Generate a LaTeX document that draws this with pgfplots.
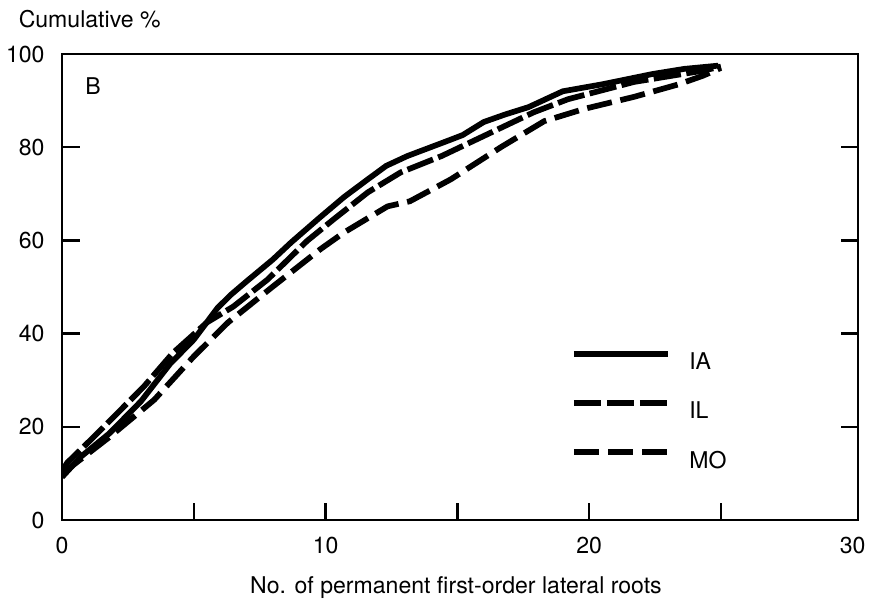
\documentclass[border=0pt]{standalone}
\usepackage{fontspec}
\setmainfont{TeX Gyre Heros}
\usepackage{pgfplots}
\pgfplotsset{compat=1.18}

\begin{document}
\begin{tikzpicture}[font=\fontsize{10.5}{12.5}\selectfont]

\begin{axis}[
scale only axis,
width=12.736cm,
height=7.456cm,
xmin=0, xmax=30.2,
ymin=0, ymax=100,
axis line style={line width=1.1pt},
tick style={line width=1.1pt, black},
tick align=inside,
major tick length=0.28cm,
xtick={0,5,...,25},
xticklabels={0,,10,,20,},
extra x ticks={30},
extra x tick style={major tick length=0pt},
xtick pos=bottom,
ytick={0,20,...,100},
ytick pos=both,
/pgf/number format/assume math mode=true,
xticklabel style={anchor=base, yshift=-0.528cm},
yticklabel style={anchor=east, inner sep=0pt, xshift=-0.272cm},
xlabel={No. of permanent first-order lateral roots},
ylabel={Cumulative \%},
every axis x label/.style={at={(rel axis cs:0.5,0)}, anchor=base, yshift=-1.168cm, xshift=-0.064cm},
every axis y label/.style={at={(rel axis cs:0,1)}, anchor=base west, xshift=-0.816cm, yshift=0.416cm},
legend style={draw=none, fill=none, at={(axis description cs:0.639,0.364)}, anchor=north west,
  inner sep=0pt, row sep=0.49cm, column sep=0.3cm,
  nodes={inner sep=0pt, text height=0.7em, text depth=0pt}},
legend cell align=left,
legend image code/.code={\draw[#1] (0cm,0.13cm) -- (1.5cm,0.13cm);},
every axis plot/.append style={black, line width=2.6pt, line join=round},
]
\coordinate (SW) at (rel axis cs:0,0);

% IA
\addplot [solid] coordinates {
(0,9.2) (0.7,13.5) (1.8,18.6) (3.0,25.5) (4.1,33.5) (5.0,38.7) (5.9,45.5)
(6.4,48.3) (7.0,51.2) (8.0,55.9) (8.7,59.6) (9.8,65) (10.7,69.3) (11.6,73.1)
(12.3,76) (13.1,78.1) (14.6,81.3) (15.2,82.6) (16.0,85.4) (16.8,87) (17.7,88.6)
(19.0,92) (20.5,93.5) (22.4,95.7) (23.6,96.8) (24.9,97.5)
};
\addlegendentry{IA}

% IL
\addplot [dash pattern=on 12.5pt off 2.5pt] coordinates {
(0,10.5) (0.2,12.3) (1.2,17.8) (3.1,28.6) (4.2,35.8) (5.5,42.4) (6.5,45.8)
(7.8,51.6) (9.3,59.9) (10.3,64.5) (11.6,70.3) (12.85,74.6) (14.4,78.1)
(16.0,82.4) (17.9,87.5) (19.2,90.3) (21.7,94.0) (24.3,96.4) (25,97.3)
};
\addlegendentry{IL}

% MO
\addplot [dash pattern=on 11.5pt off 4pt] coordinates {
(0,10) (0.2,10.8) (1.8,17.8) (3.5,25.8) (5.0,35.1) (6.3,42.4) (8.0,50.1)
(9.8,58.1) (10.7,61.7) (12.35,67.3) (13.2,68.4) (14.75,73.1) (16.65,80)
(18.3,85.6) (19.8,88.2) (21.7,90.8) (23.4,93.5) (24.3,95.3) (25,97)
};
\addlegendentry{MO}

\node at (axis cs:1.18,93.1) {B};
\end{axis}

\pgfresetboundingbox
\path[use as bounding box] ([shift={(-0.992cm,-1.296cm)}]SW) rectangle ([shift={(13.008cm,8.32cm)}]SW);
\end{tikzpicture}
\end{document}
